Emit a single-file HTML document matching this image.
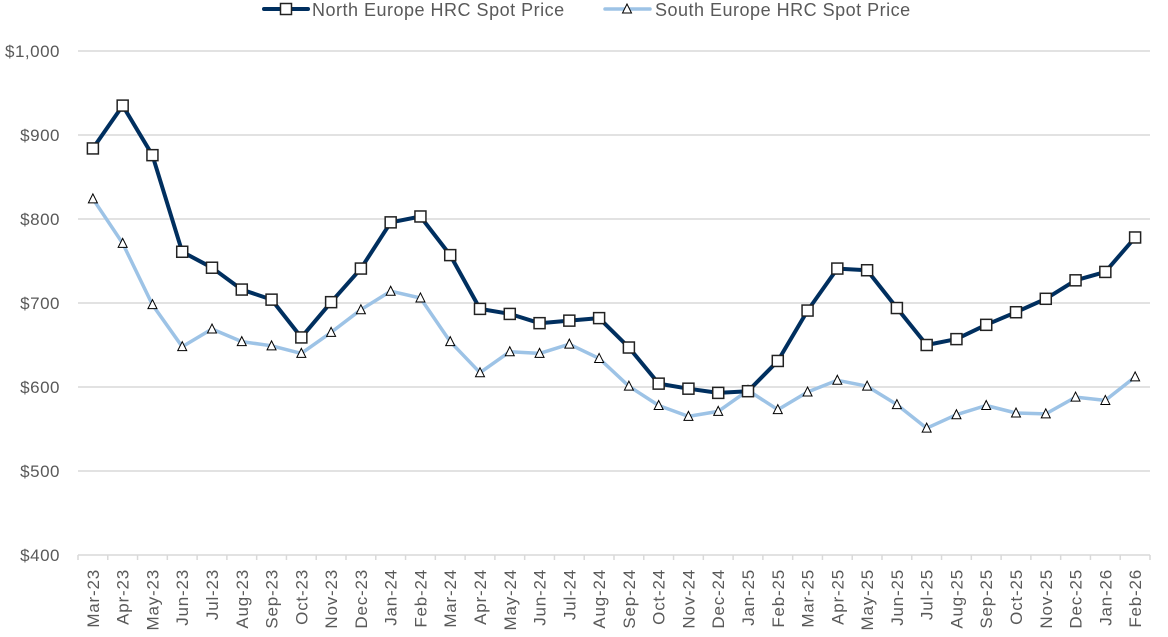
<!DOCTYPE html>
<html><head><meta charset="utf-8"><style>
html,body{margin:0;padding:0;background:#fff;}
svg{display:block;font-family:"Liberation Sans",sans-serif;}
</style></head><body>
<svg id="c" width="1168" height="637" xmlns="http://www.w3.org/2000/svg"></svg>
<script>
const N=[884,935,876,761,742,716,704,659,701,741,796,803,757,693,687,676,679,682,647,604,598,593,595,631,691,741,739,694,650,657,674,689,705,727,737,778];
const S=[824,771,698,648,669,654,649,640,665,692,714,706,654,617,642,640,651,634,601,578,565,571,596,573,594,608,601,579,551,567,578,569,568,588,584,612];
const L=["Mar-23","Apr-23","May-23","Jun-23","Jul-23","Aug-23","Sep-23","Oct-23","Nov-23","Dec-23","Jan-24","Feb-24","Mar-24","Apr-24","May-24","Jun-24","Jul-24","Aug-24","Sep-24","Oct-24","Nov-24","Dec-24","Jan-25","Feb-25","Mar-25","Apr-25","May-25","Jun-25","Jul-25","Aug-25","Sep-25","Oct-25","Nov-25","Dec-25","Jan-26","Feb-26"];
const x0=78,x1=1150,w=(x1-x0)/36;
const X=i=>x0+w*(i+0.5), Y=v=>555-(v-400)*0.84;
let s='';
for(let v=500;v<=1000;v+=100){s+=`<line x1="${x0}" x2="${x1}" y1="${Y(v)}" y2="${Y(v)}" stroke="#d9d9d9" stroke-width="1.5"/>`;}
for(let v=400;v<=1000;v+=100){s+=`<text x="60" y="${Y(v)+6}" text-anchor="end" font-size="17" letter-spacing="0.5" fill="#595959">$${v==1000?'1,000':v}</text>`;}
s+=`<line x1="${x0}" x2="${x1}" y1="555" y2="555" stroke="#d9d9d9" stroke-width="1.5"/>`;
for(let i=0;i<=36;i++){let x=x0+w*i;s+=`<line x1="${x}" x2="${x}" y1="555" y2="560" stroke="#d9d9d9" stroke-width="1.5"/>`;}
L.forEach((l,i)=>{s+=`<text transform="translate(${X(i)+6},569) rotate(-90)" text-anchor="end" font-size="17" letter-spacing="0.8" fill="#595959">${l}</text>`;});
const pts=a=>a.map((v,i)=>X(i).toFixed(1)+','+Y(v).toFixed(1)).join(' ');
s+=`<polyline points="${pts(S)}" fill="none" stroke="#9dc3e6" stroke-width="3.5" stroke-linejoin="round"/>`;
s+=`<polyline points="${pts(N)}" fill="none" stroke="#002f5f" stroke-width="4" stroke-linejoin="round"/>`;
const tri=(x,y)=>`<polygon points="${x},${y-5} ${x-4.5},${y+4} ${x+4.5},${y+4}" fill="#fff" stroke="#000" stroke-width="1"/>`;
const sq=(x,y)=>`<rect x="${x-5.5}" y="${y-5.5}" width="11" height="11" fill="#fff" stroke="#222" stroke-width="1.5"/>`;
S.forEach((v,i)=>s+=tri(X(i),Y(v)));
N.forEach((v,i)=>s+=sq(X(i),Y(v)));
s+=`<line x1="264" x2="308" y1="9" y2="9" stroke="#002f5f" stroke-width="4" stroke-linecap="round"/>`+sq(286,9);
s+=`<text x="312" y="16" font-size="18" letter-spacing="0.5" fill="#595959">North Europe HRC Spot Price</text>`;
s+=`<line x1="605" x2="650" y1="9" y2="9" stroke="#9dc3e6" stroke-width="3.5" stroke-linecap="round"/>`+tri(627,9);
s+=`<text x="655" y="16" font-size="18" letter-spacing="0.5" fill="#595959">South Europe HRC Spot Price</text>`;
document.getElementById('c').innerHTML=s;
</script>
</body></html>
